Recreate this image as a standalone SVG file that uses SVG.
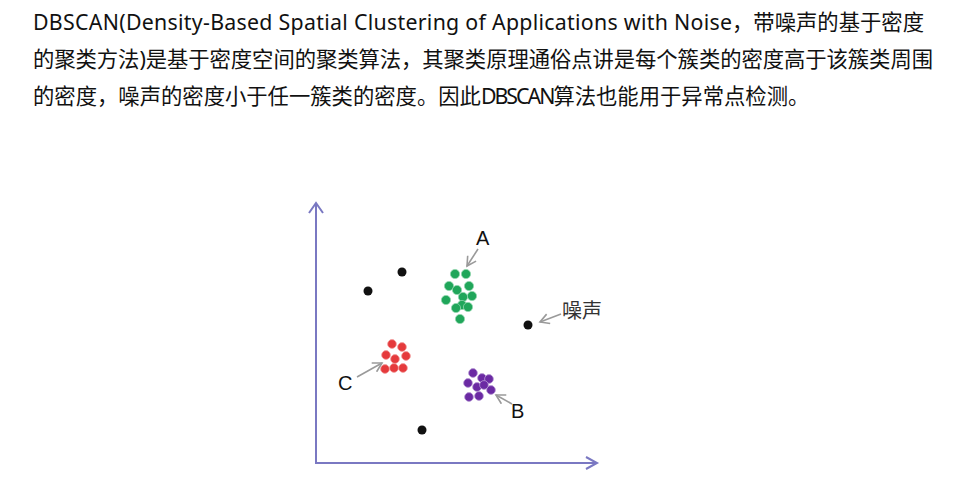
<svg xmlns="http://www.w3.org/2000/svg" width="954" height="485" viewBox="0 0 954 485">
<defs>
<style>
.para{font-family:"Noto Sans","Noto Sans CJK SC",sans-serif;font-size:21.33px;fill:#111}
.tight{letter-spacing:-2px}
.lbl{font-family:"Liberation Sans",Arial,sans-serif;font-size:20px;fill:#111}
.cjk{font-family:"Noto Sans CJK SC",sans-serif;font-size:20px;fill:#333}
.axis{stroke:#7a78c2;stroke-width:2;fill:none}
.ptr{stroke:#9a9a9a;stroke-width:1.6;fill:none}
.noise{fill:#111}
.ga{fill:#20a65a;stroke:#8fd6ac;stroke-width:0.8}
.rc{fill:#e53a3c;stroke:#f2a0a0;stroke-width:0.8}
.pb{fill:#6b2aa3;stroke:#b79ad6;stroke-width:0.8}
</style>
<marker id="ah" markerWidth="12" markerHeight="12" refX="10" refY="6" orient="auto" markerUnits="userSpaceOnUse">
<path d="M1,1 L10,6 L1,11" fill="none" stroke="#9a9a9a" stroke-width="1.6"/>
</marker>
</defs>
<rect width="954" height="485" fill="#fff"/>
<g id="paragraph">
<text class="para" x="33" y="30" textLength="699" lengthAdjust="spacing">DBSCAN(Density-Based Spatial Clustering of Applications with Noise</text>
<text class="para" x="732" y="30" textLength="192" lengthAdjust="spacing">，带噪声的基于密度</text>
<text class="para" x="33" y="67" textLength="900" lengthAdjust="spacing">的聚类方法)是基于密度空间的聚类算法，其聚类原理通俗点讲是每个簇类的密度高于该簇类周围</text>
<text class="para" x="33" y="104">的密度，噪声的密度小于任一簇类的密度。因此<tspan class="tight">DBSCAN</tspan>算法也能用于异常点检测。</text>
</g>
<g id="axes">
<path class="axis" d="M316,203 L316,463 L597,463"/>
<path class="axis" d="M309,213 L316,203 L323,213"/>
<path class="axis" d="M586,457 L597,463 L586,469"/>
</g>
<g id="noise">
<circle class="noise" cx="368" cy="291" r="4.5"/>
<circle class="noise" cx="402" cy="272" r="4.5"/>
<circle class="noise" cx="528" cy="325" r="4.5"/>
<circle class="noise" cx="422" cy="430" r="4.5"/>
<text class="cjk" x="562" y="318">噪声</text>
</g>
<g id="cluster-A">
<circle class="ga" cx="455" cy="274" r="4.6"/>
<circle class="ga" cx="466" cy="274" r="4.6"/>
<circle class="ga" cx="449" cy="286" r="4.6"/>
<circle class="ga" cx="469" cy="286" r="4.6"/>
<circle class="ga" cx="457" cy="290" r="4.6"/>
<circle class="ga" cx="472" cy="296" r="4.6"/>
<circle class="ga" cx="446" cy="300" r="4.6"/>
<circle class="ga" cx="463" cy="297" r="4.6"/>
<circle class="ga" cx="462" cy="305" r="4.6"/>
<circle class="ga" cx="456" cy="308" r="4.6"/>
<circle class="ga" cx="468" cy="307" r="4.6"/>
<circle class="ga" cx="460" cy="319" r="4.6"/>
<text class="lbl" x="476" y="245">A</text>
</g>
<g id="cluster-C">
<circle class="rc" cx="392" cy="344" r="4.4"/>
<circle class="rc" cx="402" cy="347" r="4.4"/>
<circle class="rc" cx="386" cy="355" r="4.4"/>
<circle class="rc" cx="395" cy="359" r="4.4"/>
<circle class="rc" cx="406" cy="356" r="4.4"/>
<circle class="rc" cx="385" cy="369" r="4.4"/>
<circle class="rc" cx="394" cy="368" r="4.4"/>
<circle class="rc" cx="403" cy="368" r="4.4"/>
<text class="lbl" x="338" y="390">C</text>
</g>
<g id="cluster-B">
<circle class="pb" cx="473" cy="373" r="4.4"/>
<circle class="pb" cx="482" cy="378" r="4.4"/>
<circle class="pb" cx="489" cy="379" r="4.4"/>
<circle class="pb" cx="468" cy="383" r="4.4"/>
<circle class="pb" cx="477" cy="387" r="4.4"/>
<circle class="pb" cx="484" cy="385" r="4.4"/>
<circle class="pb" cx="491" cy="390" r="4.4"/>
<circle class="pb" cx="469" cy="397" r="4.4"/>
<circle class="pb" cx="479" cy="396" r="4.4"/>
<text class="lbl" x="511" y="418">B</text>
</g>
<g id="connectors">
<line class="ptr" x1="478" y1="249" x2="467" y2="266" marker-end="url(#ah)"/>
<line class="ptr" x1="561" y1="314" x2="540" y2="322" marker-end="url(#ah)"/>
<line class="ptr" x1="357" y1="377" x2="382" y2="363" marker-end="url(#ah)"/>
<line class="ptr" x1="512" y1="404" x2="496" y2="395" marker-end="url(#ah)"/>
</g>
</svg>
